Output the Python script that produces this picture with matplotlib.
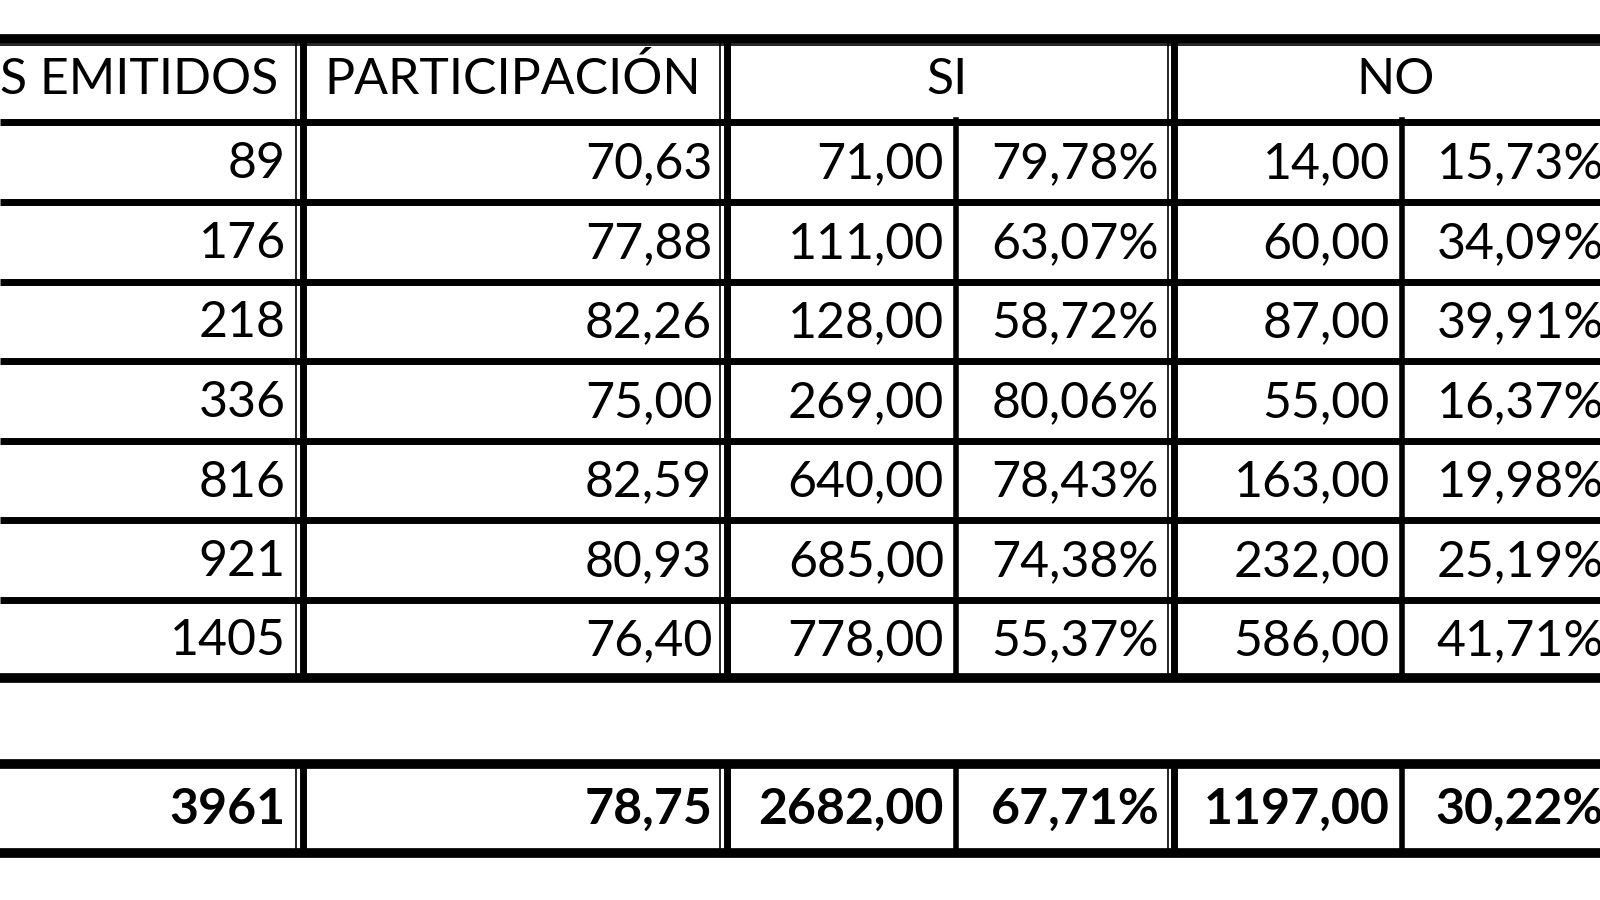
import matplotlib.pyplot as plt

emitidos = ["89", "176", "218", "336", "816", "921", "1405"]
participacion = ["70,63", "77,88", "82,26", "75,00", "82,59", "80,93", "76,40"]
si_votos = ["71,00", "111,00", "128,00", "269,00", "640,00", "685,00", "778,00"]
si_pct = ["79,78%", "63,07%", "58,72%", "80,06%", "78,43%", "74,38%", "55,37%"]
no_votos = ["14,00", "60,00", "87,00", "55,00", "163,00", "232,00", "586,00"]
no_pct = ["15,73%", "34,09%", "39,91%", "16,37%", "19,98%", "25,19%", "41,71%"]
total = ["3961", "78,75", "2682,00", "67,71%", "1197,00", "30,22%"]
headers = ["S EMITIDOS", "PARTICIPACIÓN", "SI", "NO"]

fig = plt.figure(figsize=(16, 9), dpi=100)
ax = fig.add_axes([0, 0, 1, 1])
# layout measured on a 1568-wide view of the reference
ax.set_xlim(0, 1568)
ax.set_ylim(882, 0)
ax.axis("off")
plt.rcParams['font.family'] = ['Lato', 'DejaVu Sans']

fs = 36
W = 1600
ax.plot([0, W], [38, 38], color="black", lw=7, solid_capstyle="butt")
ax.plot([0, W], [44, 44], color="black", lw=1.2)
for x in [290, 706, 1145]:
    ax.plot([x, x], [38, 118], color="black", lw=1.2)
for x in [297, 712, 1151]:
    ax.plot([x, x], [38, 118], color="black", lw=5)
ax.text(273, 78, headers[0], ha="right", va="center", fontsize=fs)
ax.text(502, 78, headers[1], ha="center", va="center", fontsize=fs)
ax.text(928, 78, headers[2], ha="center", va="center", fontsize=fs)
ax.text(1368, 78, headers[3], ha="center", va="center", fontsize=fs)

tops = [120, 198, 276, 354, 432, 510, 588]
bot = 664
for t in tops:
    ax.plot([0, W], [t, t], color="black", lw=5, solid_capstyle="butt")
ax.plot([0, W], [bot, bot], color="black", lw=7, solid_capstyle="butt")
for x in [290, 706, 1145]:
    ax.plot([x, x], [118, bot], color="black", lw=1.2)
for x in [297, 712, 1151]:
    ax.plot([x, x], [118, bot], color="black", lw=5)
for x in [937, 1374]:
    ax.plot([x, x], [118, bot], color="black", lw=4)

rights = [280, 698, 925, 1136, 1362, 1572]
cols = [emitidos, participacion, si_votos, si_pct, no_votos, no_pct]
for i, t in enumerate(tops):
    nxt = tops[i + 1] if i + 1 < len(tops) else bot
    yc = (t + nxt) / 2 + 2
    for r, col in zip(rights, cols):
        ax.text(r, yc, col[i], ha="right", va="center", fontsize=fs)

ax.plot([0, W], [749, 749], color="black", lw=7, solid_capstyle="butt")
ax.plot([0, W], [836, 836], color="black", lw=7, solid_capstyle="butt")
for x in [290, 706, 1145]:
    ax.plot([x, x], [749, 836], color="black", lw=1.2)
for x in [297, 712, 1151]:
    ax.plot([x, x], [749, 836], color="black", lw=5)
for x in [937, 1374]:
    ax.plot([x, x], [749, 836], color="black", lw=4)
for r, v in zip(rights, total):
    ax.text(r, 793, v, ha="right", va="center", fontsize=fs, fontweight="bold")

fig.savefig("out.png", dpi=100, facecolor="white")
